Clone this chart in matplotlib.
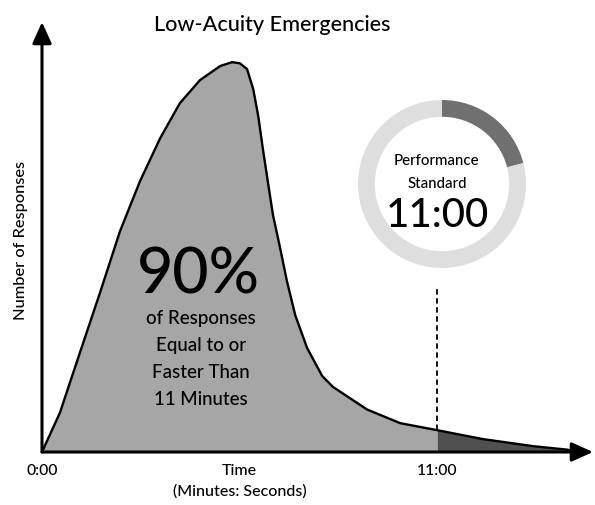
import numpy as np
import matplotlib.pyplot as plt

# response time distribution, low-acuity emergencies

minutes = [0.0, 0.50, 1.06, 1.62, 2.17, 2.73, 3.29, 3.84, 4.40, 4.96, 5.29,
           5.51, 5.71, 5.88, 6.02, 6.15, 6.29, 6.43, 6.63, 6.82, 7.05, 7.38,
           7.80, 8.10, 9.05, 9.97, 11.0, 12.28, 13.67, 14.62, 14.98]
responses = [0.0, 10.1, 25.6, 41.0, 56.6, 69.5, 80.5, 89.5, 95.4, 99.0, 100.0,
             99.7, 98.2, 93.1, 86.2, 77.7, 69.2, 60.8, 52.3, 43.8, 35.1, 26.7,
             19.5, 16.7, 10.9, 7.4, 5.6, 3.3, 1.5, 0.6, 0.0]

standard_min = 11.0
standard_label = "11:00"
share_within = 90
ring_shares = [21, 79]   # dark arc vs rest of ring

x_ticks = [0.0, 11.0]
x_tick_labels = ["0:00", "11:00"]

fill_main = "#a6a6a6"
fill_tail = "#505050"
ring_light = "#dedede"
ring_dark = "#707070"


def main():
    plt.rcParams['font.family'] = ['Lato', 'DejaVu Sans']
    plt.rcParams['font.weight'] = 'medium'
    fig = plt.figure(figsize=(5.95, 5.06), dpi=100)

    ax = fig.add_axes([42 / 595, 53 / 506, 551 / 595, 430 / 506])
    ax.set_xlim(0, 15.34)
    ax.set_ylim(0, 110.3)
    ax.axis('off')

    x = np.array(minutes)
    y = np.array(responses)
    ax.fill_between(x, y, where=x <= standard_min, color=fill_main, lw=0)
    ax.fill_between(x, y, where=x >= standard_min, color=fill_tail, lw=0)
    ax.plot(x, y, color='black', lw=1.7, solid_joinstyle='round')

    # dashed marker for the standard
    y_at = y[minutes.index(standard_min)]
    ax.plot([standard_min, standard_min], [y_at, 42.5], color='black', lw=1.3,
            ls=(0, (3, 2)))

    # axes arrows
    arrow = dict(arrowstyle='-|>,head_width=0.45,head_length=1.0',
                 mutation_scale=13, lw=2.2, color='black',
                 shrinkA=0, shrinkB=0)
    ax.annotate('', xy=(1, 0), xytext=(0, 0), xycoords='axes fraction',
                arrowprops=arrow)
    ax.annotate('', xy=(0, 1), xytext=(0, 0), xycoords='axes fraction',
                arrowprops=arrow)

    for t, lab in zip(x_ticks, x_tick_labels):
        ax.text(t, -4.6, lab, ha='center', va='center', fontsize=11.3)
    ax.text(5.5, -4.6, "Time", ha='center', va='center', fontsize=11.5)
    ax.text(5.5, -10.0, "(Minutes: Seconds)", ha='center', va='center',
            fontsize=11.5)

    fig.text(21 / 595, 1 - 240 / 506, "Number of Responses", rotation=90,
             ha='center', va='center', fontsize=11.8)
    fig.text(272 / 595, 1 - 25 / 506, "Low-Acuity Emergencies", ha='center',
             va='center', fontsize=15.6)

    # big annotation inside the curve
    ax.text(4.36, 45.6, f"{share_within}%", ha='center', va='center',
            fontsize=45)
    body = ["of Responses", "Equal to or", "Faster Than", "11 Minutes"]
    for i, line in enumerate(body):
        ax.text(4.42, 34.6 - i * 7.0, line, ha='center', va='center',
                fontsize=13.5)

    # performance standard ring
    ax2 = fig.add_axes([(442 - 84) / 595, (506 - 185 - 84) / 506,
                        168 / 595, 168 / 506])
    ax2.pie(ring_shares, colors=[ring_dark, ring_light], startangle=90,
            counterclock=False, radius=1.0,
            wedgeprops=dict(width=0.2, linewidth=0))
    ax2.set_xlim(-1, 1)
    ax2.set_ylim(-1, 1)
    ax2.set_aspect('equal')
    ax2.axis('off')
    ax2.text(-0.07, 0.28, "Performance", ha='center', va='center',
             fontsize=10.8)
    ax2.text(-0.06, 0.01, "Standard", ha='center', va='center', fontsize=10.8)
    ax2.text(-0.06, -0.36, standard_label, ha='center', va='center',
             fontsize=29)

    plt.savefig('out.png', dpi=100)


if __name__ == '__main__':
    main()
